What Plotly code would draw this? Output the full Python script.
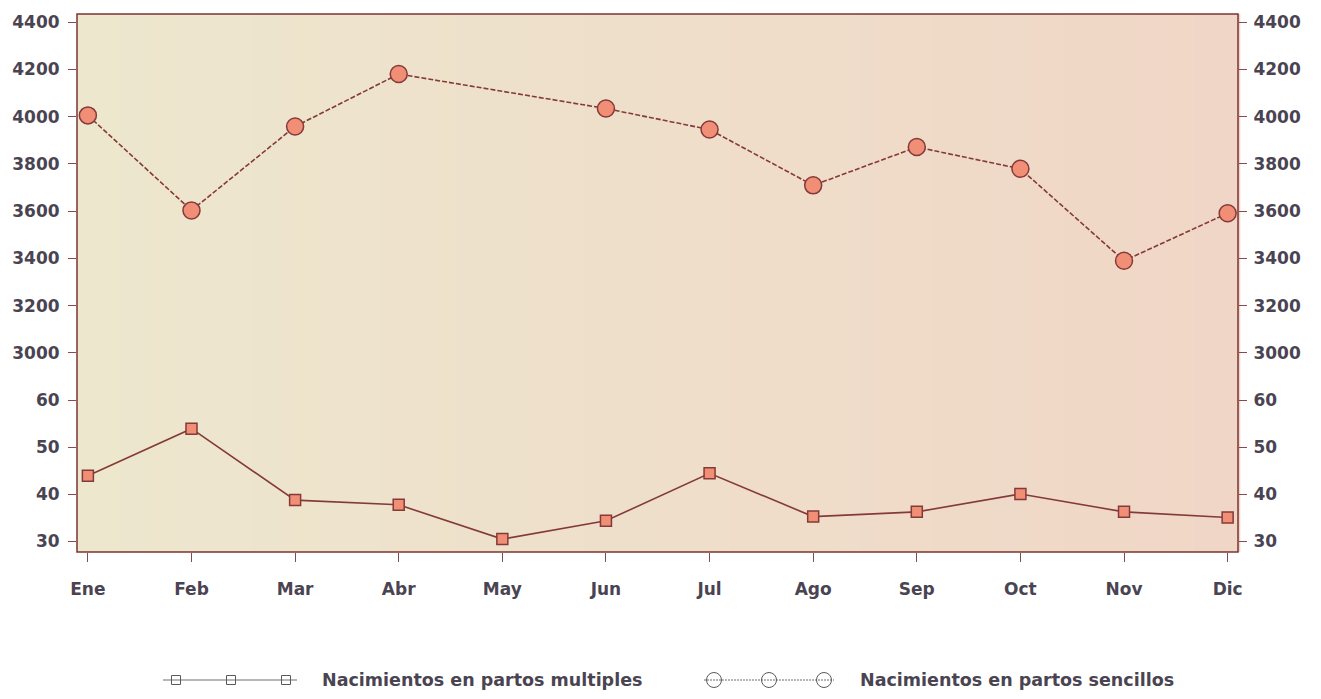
import plotly.graph_objects as go

# ------------------------------------------
# DATOS
# ------------------------------------------
MESES = ["Ene", "Feb", "Mar", "Abr", "May", "Jun", "Jul", "Ago", "Sep", "Oct", "Nov", "Dic"]
SENCILLOS = [4005, 3603, 3958, 4180, None, 4034, 3945, 3709, 3871, 3779, 3390, 3591]
MULTIPLES = [43.9, 53.9, 38.7, 37.7, 30.4, 34.3, 44.4, 35.2, 36.2, 40.0, 36.2, 35.0]

TICKS_ALTO = [3000, 3200, 3400, 3600, 3800, 4000, 4200, 4400]
TICKS_BAJO = [30, 40, 50, 60]

LEYENDA_MULT = "Nacimientos en partos multiples"
LEYENDA_SENC = "Nacimientos en partos sencillos"

# ------------------------------------------
# ESTILO
# ------------------------------------------
# la pagina tiene 8px de margen en el body
W, H = 1313, 691
L, R, T, B = 69, 83, 6, 147
OFF = 8
LINEA = "#853a3a"
RELLENO = "#f08e76"
TEXTO = "#4a4452"
FUENTE = "DejaVu Sans"
BG_IZQ = (237, 231, 206)
BG_DER = (240, 214, 198)
CORTE = 0.327  # fraccion del alto para el tramo inferior

plot_w = W - L - R
plot_h = H - T - B


def px_x(px):
    # px en coordenadas de la pagina
    return (px - OFF - L) / plot_w


def px_y(py):
    return (OFF + H - B - py) / plot_h


fig = go.Figure()

# multiples (tramo inferior)
fig.add_trace(go.Scatter(
    x=MESES, y=MULTIPLES, yaxis="y", mode="lines+markers",
    line=dict(color=LINEA, width=1.6),
    marker=dict(symbol="square", size=11, color=RELLENO, line=dict(color=LINEA, width=1.5)),
    name=LEYENDA_MULT, showlegend=False,
))
# sencillos (tramo superior)
fig.add_trace(go.Scatter(
    x=MESES, y=SENCILLOS, yaxis="y2", mode="lines+markers", connectgaps=True,
    line=dict(color=LINEA, width=1.6, dash="5px,2px"),
    marker=dict(symbol="circle", size=17, color=RELLENO, line=dict(color=LINEA, width=1.5)),
    name=LEYENDA_SENC, showlegend=False,
))
# copias invisibles para los ejes de la derecha
for ys, ax in ((MULTIPLES, "y3"), (SENCILLOS, "y4")):
    fig.add_trace(go.Scatter(x=MESES, y=ys, yaxis=ax, mode="lines", opacity=0,
                             line=dict(width=0), hoverinfo="skip", showlegend=False))

# fondo degradado
shapes = []
N = 80
for i in range(N):
    f = i / (N - 1)
    c = tuple(round(a + (b - a) * f) for a, b in zip(BG_IZQ, BG_DER))
    shapes.append(dict(type="rect", xref="paper", yref="paper", x0=i / N, x1=(i + 1) / N + 0.002,
                       y0=0, y1=1, fillcolor=f"rgb{c}", line=dict(width=0), layer="below"))
# marco
shapes.append(dict(type="rect", xref="paper", yref="paper", x0=0, x1=1, y0=0, y1=1,
                   line=dict(color="#7a3434", width=1.5)))

# leyenda dibujada (tres simbolos por muestra)
ly = px_y(680)
shapes.append(dict(type="line", xref="paper", yref="paper", x0=px_x(163), x1=px_x(297), y0=ly, y1=ly,
                   line=dict(color="#6e6e6e", width=1)))
for cx in (176, 231, 286):
    shapes.append(dict(type="rect", xref="paper", yref="paper",
                       x0=px_x(cx - 4.5), x1=px_x(cx + 4.5), y0=px_y(680 + 4.5), y1=px_y(680 - 4.5),
                       line=dict(color="#5a5a5a", width=1)))
shapes.append(dict(type="line", xref="paper", yref="paper", x0=px_x(704), x1=px_x(834), y0=ly, y1=ly,
                   line=dict(color="#6e6e6e", width=1, dash="2px,1px")))
for cx in (714, 769, 824):
    shapes.append(dict(type="circle", xref="paper", yref="paper",
                       x0=px_x(cx - 7.5), x1=px_x(cx + 7.5), y0=px_y(680 + 7.5), y1=px_y(680 - 7.5),
                       line=dict(color="#5a5a5a", width=1)))

annotations = [
    dict(text=LEYENDA_MULT, xref="paper", yref="paper", x=px_x(320), y=ly, xanchor="left", yanchor="middle",
         showarrow=False, font=dict(family=FUENTE, size=17.5, color=TEXTO, weight="bold")),
    dict(text=LEYENDA_SENC, xref="paper", yref="paper", x=px_x(858), y=ly, xanchor="left", yanchor="middle",
         showarrow=False, font=dict(family=FUENTE, size=17.5, color=TEXTO, weight="bold")),
]

tickfont = dict(family=FUENTE, size=17, color=TEXTO, weight="bold")
eje_y = dict(ticks="outside", ticklen=8, tickcolor="#8a4a4a", tickwidth=1, showgrid=False,
             zeroline=False, showline=False, tickfont=tickfont, fixedrange=True)

fig.update_layout(
    width=W, height=H,
    margin=dict(l=L, r=R, t=T, b=B, autoexpand=False),
    paper_bgcolor="white", plot_bgcolor="rgba(0,0,0,0)",
    showlegend=False,
    shapes=shapes, annotations=annotations,
    xaxis=dict(domain=[0, 1], anchor="y", type="category", range=[-0.105, 11.1],
               ticks="outside", ticklen=9, tickcolor="#8a4a4a", tickwidth=1,
               showgrid=False, zeroline=False, showline=False,
               tickfont=tickfont, ticklabelstandoff=13, fixedrange=True),
    yaxis=dict(domain=[0, CORTE], anchor="x", side="left", range=[27.66, 65.1],
               tickvals=TICKS_BAJO, ticklabelstandoff=5, **eje_y),
    yaxis2=dict(domain=[CORTE, 1], anchor="x", side="left", range=[2902, 4434],
                tickvals=TICKS_ALTO, ticklabelstandoff=5, **eje_y),
    yaxis3=dict(overlaying="y", anchor="x", side="right", range=[27.66, 65.1],
                tickvals=TICKS_BAJO, ticklabelstandoff=3, **eje_y),
    yaxis4=dict(overlaying="y2", anchor="x", side="right", range=[2902, 4434],
                tickvals=TICKS_ALTO, ticklabelstandoff=3, **eje_y),
    hovermode="closest",
)

fig.write_html("out.html")
